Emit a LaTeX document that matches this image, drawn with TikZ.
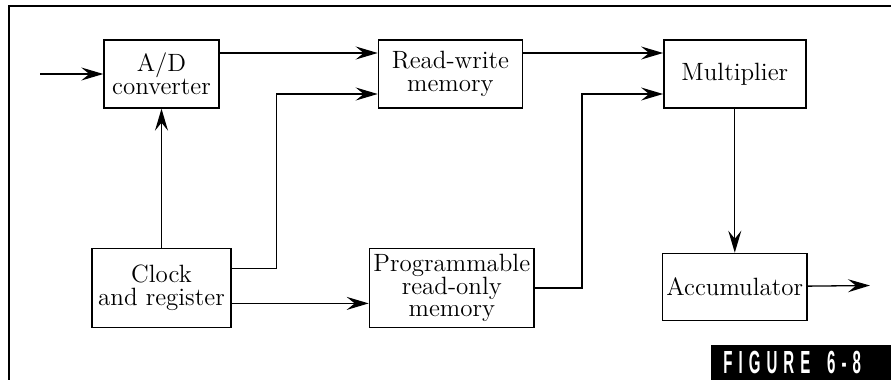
\documentclass[tikz,border=0pt]{standalone}
\usepackage{fontspec}
\newfontfamily\figfont[LetterSpace=40]{Liberation Sans}
\usepackage{tikz}
\usetikzlibrary{arrows.meta,positioning}

\begin{document}
\begin{tikzpicture}[x=0.5pt,y=-0.5pt,>={Stealth[length=11pt,width=6.5pt,inset=4pt]},
  every node/.style={font=\fontsize{12.5}{11.3}\selectfont},
  box/.style={draw,line width=0.7pt,align=center,inner sep=2pt},
  line/.style={line width=0.65pt}]
\useasboundingbox (0,0) rectangle (891,380);
% open frame
\draw[line width=1.3pt] (9,380) -- (9,6) -- (891,6);
\node[box,minimum width=57.5pt,minimum height=34pt] (ad) at (161.5,74) {A/D\\converter};
\node[box,minimum width=72pt,minimum height=34pt,right=79pt of ad] (rw) {Read-write\\memory};
\node[box,minimum width=71pt,minimum height=34pt,right=70pt of rw] (mult) {Multiplier};
\node[box,minimum width=71pt,minimum height=33.5pt,below=72pt of mult] (acc) {Accumulator};
\node[box,minimum width=69.5pt,minimum height=39.5pt,below=69.5pt of ad] (clock) {Clock\\and register};
\node[box,minimum width=82pt,minimum height=39.5pt,right=68.5pt of clock] (prom) {Programmable\\read-only\\memory};
\coordinate (in) at (40,74);
\coordinate (out) at (870,285.5);
\draw[line,->] (in) -- (ad);
\draw[line,->] ([yshift=10.5pt]ad.east) -- ([yshift=10.5pt]rw.west);
\draw[line,->] ([yshift=10.5pt]rw.east) -- ([yshift=10.5pt]mult.west);
\draw[line,->] (clock) -- (ad);
\draw[line,->] ([yshift=9.75pt]clock.east) -- ++(22.5pt,0) |- ([yshift=-10pt]rw.west);
\draw[line,->] ([yshift=-7.75pt]clock.east) -- ([yshift=-7.75pt]prom.west);
\draw[line,->] (prom.east) -- ++(23.5pt,0) |- ([yshift=-10pt]mult.west);
\draw[line,->] (mult) -- (acc);
\draw[line,->] (acc) -- (out);
% figure tag
\fill (711,345) rectangle (891,380);
\node[text=white,inner sep=0pt,anchor=west,font=\figfont\bfseries\fontsize{16}{16}\selectfont] (tag) at (723,362) {\scalebox{0.47}[1]{FIGURE\hspace{18pt}6-8}};
\end{tikzpicture}
\end{document}
